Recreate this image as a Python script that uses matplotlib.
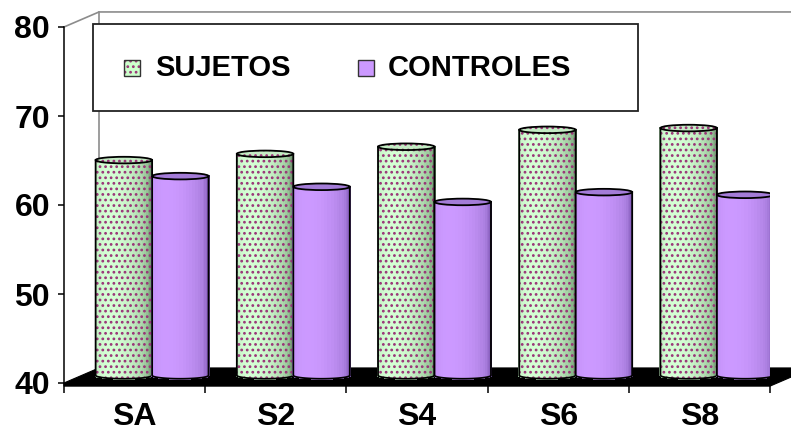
import matplotlib.pyplot as plt
import numpy as np
from matplotlib.colors import LinearSegmentedColormap
from matplotlib.patches import Ellipse, Polygon, Rectangle

categories = ["SA", "S2", "S4", "S6", "S8"]
series_names = ["SUJETOS", "CONTROLES"]
sujetos = [64.2, 64.9, 65.7, 67.6, 67.8]
controles = [62.4, 61.2, 59.5, 60.6, 60.3]
y_ticks = [40, 50, 60, 70, 80]

W, H = 791, 438
DX, DY = 0.248, 1.69      # depth offset of the back wall, data units
BAR_W = 0.4
CAP = 0.37                # half height of the cylinder ellipses
FLOOR_T = 0.35            # floor slab thickness
FONT = "Liberation Sans"
DOTS = "..."

plt.rcParams["hatch.linewidth"] = 1.2

green_cmap = LinearSegmentedColormap.from_list("g", ["#4a6a4a", "#9cc89c", "#d4ffd4"])
purple_cmap = LinearSegmentedColormap.from_list("p", ["#6a44a0", "#ab7fe0", "#cc99ff"])


def px(x, y):
    return x / W, 1 - y / H


def cylinder(ax, xc, base, top, cmap, cap_color, dots, z, n=26):
    theta = np.linspace(0, np.pi, n + 1)
    xs = xc - BAR_W / 2 * np.cos(theta)
    sag = CAP * np.sin(theta)
    X = np.vstack([xs, xs])
    Y = np.vstack([base - sag, top - sag])
    mid = 0.5 * (theta[:-1] + theta[1:])
    shade = 0.42 + 0.58 * np.cos(mid - 1.1)
    ax.pcolormesh(X, Y, shade[None, :], cmap=cmap, vmin=0, vmax=1,
                  shading="flat", edgecolors="face", linewidth=0.2, zorder=z)
    if dots:
        body = np.column_stack([np.r_[xs, xs[::-1]],
                                np.r_[base - sag, (top - sag)[::-1]]])
        ax.add_patch(Polygon(body, facecolor="none", edgecolor="#993377",
                             linewidth=0, hatch=DOTS, zorder=z + 0.1))
    ax.add_patch(Ellipse((xc, top), BAR_W, 2 * CAP, facecolor=cap_color,
                         edgecolor="#993377" if dots else cap_color,
                         linewidth=0, hatch=DOTS if dots else None,
                         zorder=z + 0.2))
    ax.add_patch(Ellipse((xc, top), BAR_W, 2 * CAP, fill=False,
                         edgecolor="black", linewidth=1.3, zorder=z + 0.3))
    ax.plot(np.r_[xs[0], xs, xs[-1]], np.r_[top, base - sag, top],
            color="black", linewidth=1.3, zorder=z + 0.3,
            solid_joinstyle="round")


fig = plt.figure(figsize=(W / 100, H / 100), dpi=100)
ax = fig.add_axes([64 / W, 1 - 383 / H, 706 / W, 356 / H])
ax.set_xlim(0, len(categories))
ax.set_ylim(40, 80)

# back wall edges
wall = dict(color="#8c8c8c", linewidth=1.2, clip_on=False, zorder=0.5)
ax.plot([DX, DX], [40 + DY, 80 + DY], **wall)
ax.plot([0, DX, len(categories) + DX + 1], [80, 80 + DY, 80 + DY], **wall)

# black floor slab
n_cat = len(categories)
floor = [(0, 40 - FLOOR_T), (n_cat, 40 - FLOOR_T), (n_cat + DX, 40 + DY - FLOOR_T),
         (n_cat + DX, 40 + DY), (DX, 40 + DY), (0, 40)]
ax.add_patch(Polygon(floor, facecolor="black", edgecolor="black",
                     linewidth=0.8, clip_on=False, zorder=1))

# cylinders sit half way into the depth
base = 40 + DY / 2
z = 3
for i in range(n_cat):
    c = i + 0.5 + DX / 2
    cylinder(ax, c - BAR_W / 2, base, sujetos[i] + DY / 2, green_cmap,
             "#c4ecc4", True, z)
    cylinder(ax, c + BAR_W / 2, base, controles[i] + DY / 2, purple_cmap,
             "#a47cd8", False, z + 1)
    z += 2

for side in ("top", "right", "bottom"):
    ax.spines[side].set_visible(False)
ax.spines["left"].set_linewidth(1.1)
ax.spines["left"].set_zorder(20)

ax.set_yticks(y_ticks)
ax.set_yticklabels([str(v) for v in y_ticks], fontfamily=FONT,
                   fontweight="bold", fontsize=23)
ax.tick_params(axis="y", length=4, width=1.1, pad=6)

ax.set_xticks(range(n_cat + 1))
ax.set_xticklabels([])
ax.tick_params(axis="x", which="major", length=7, width=1.1)
ax.set_xticks(np.arange(n_cat) + 0.5, minor=True)
ax.set_xticklabels(categories, minor=True, fontfamily=FONT,
                   fontweight="bold", fontsize=23)
ax.tick_params(axis="x", which="minor", length=0, pad=14)

# legend box
x0, y0 = px(93, 111)
x1, y1 = px(638, 24)
fig.add_artist(Rectangle((x0, y0), x1 - x0, y1 - y0, transform=fig.transFigure,
                         facecolor="white", edgecolor="#222222", linewidth=1.3,
                         zorder=30))
markers = [(124, 155, "#ccffcc", "#993377", DOTS),
           (358, 388, "#cc99ff", "#cc99ff", None)]
for name, (mx, tx, fc, hc, hatch) in zip(series_names, markers):
    sx, sy = px(mx, 76)
    sw = 16 / W
    sh = 16 / H
    fig.add_artist(Rectangle((sx, sy), sw, sh, transform=fig.transFigure,
                             facecolor=fc, edgecolor=hc, linewidth=0,
                             hatch=hatch, zorder=31))
    fig.add_artist(Rectangle((sx, sy), sw, sh, transform=fig.transFigure,
                             fill=False, edgecolor="#333333", linewidth=1.0,
                             zorder=32))
    lx, ly = px(tx, 68)
    fig.text(lx, ly, name, fontfamily=FONT, fontweight="bold", fontsize=21,
             va="center", ha="left", zorder=33)

fig.savefig("out.png", dpi=100)
